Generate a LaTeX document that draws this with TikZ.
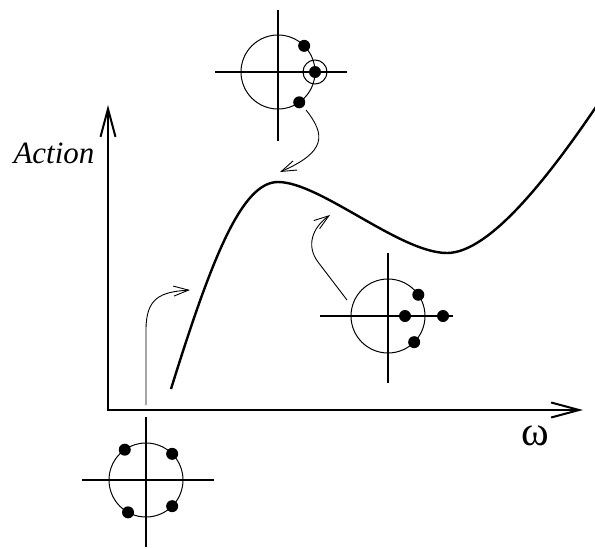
\documentclass[tikz,border=0pt]{standalone}
\usepackage{fontspec}
\setmainfont{Liberation Serif}
\usetikzlibrary{positioning, arrows.meta, calc}

\begin{document}
\begin{tikzpicture}[x=1pt, y=-1pt,
    axis/.style={line width=2pt, -{Straight Barb[length=28pt, width=15pt, line width=2pt]}},
    curve/.style={line width=2.4pt, line join=round},
    cross/.style={line width=1.2pt},
    orbit/.style={line width=1pt},
    charge/.style={circle, fill=black, inner sep=0pt, minimum size=12pt},
    hint/.style={line width=0.9pt, -{Straight Barb[length=15pt, width=10pt, line width=0.9pt]}}]
      \useasboundingbox (0,0) rectangle (595,549);

      % Axes
      \coordinate (o) at (108,410);
      \coordinate (ytip) at (108,105);
      \coordinate (xtip) at (583,410);
      \draw[axis] (o) -- (ytip);
      \draw[axis] ($(o)+(-1,0)$) -- (xtip);
      \node[font=\fontsize{31}{31}\selectfont\itshape] (lbl) at (54,153) {Action};
      \node[font=\fontsize{42}{42}\selectfont] (omega) at (535,436) {ω};

      % Action curve
      \draw[curve] (171,389) .. controls (212,257) and (242,182) .. (278,182)
                   .. controls (320,182) and (400,253) .. (447,253)
                   .. controls (490,253) and (550,175) .. (598,104);

      % Bottom inset
      \coordinate (c1) at (146,480);
      \draw[cross] (146,417) -- (146,547);
      \draw[cross] (82,480) -- (214,480);
      \draw[orbit] (c1) circle (37);
      \node[charge] (d1) at ($(c1)+(45:37)$) {};
      \node[charge] (d2) at ($(c1)+(119:37)$) {};
      \node[charge] (d3) at ($(c1)+(235:37)$) {};
      \node[charge] (d4) at ($(c1)+(315:37)$) {};

      % Top inset
      \coordinate (c2) at (278,72);
      \draw[cross] (278,10) -- (278,141);
      \draw[cross] (215,72) -- (347,72);
      \draw[orbit] (c2) circle (37);
      \node[charge] (d5) at ($(c2)+(55:37)$) {};
      \node[charge] (d6) at ($(c2)+(0:37)$) {};
      \node[charge] (d7) at ($(c2)+(-45:37)$) {};
      \draw[orbit] (d6) circle (12);

      % Middle inset
      \coordinate (c3) at (388,316);
      \draw[cross] (388,253) -- (388,383);
      \draw[cross] (320,316) -- (453,316);
      \draw[orbit] (c3) circle (37);
      \node[charge] (d8) at ($(c3)+(45:37)$) {};
      \node[charge] (d9) at (405,316) {};
      \node[charge] (d10) at (443,316) {};
      \node[charge] (d11) at ($(c3)+(-35:37)$) {};

      % Arrows from insets to curve
      \coordinate (a1s) at (146,405);
      \coordinate (a1e) at (190,290);
      \coordinate (a2s) at (306,110);
      \coordinate (a2e) at (280,172);
      \coordinate (a3s) at (347,300);
      \coordinate (a3e) at (330,215);
      \draw[hint] (a1s) -- (146,330) .. controls (146,298) and (160,292) .. (a1e);
      \draw[hint] (a2s) .. controls (326,135) and (326,152) .. (a2e);
      \draw[hint] (a3s) -- (318,262) .. controls (306,246) and (312,228) .. (a3e);
    \end{tikzpicture}
\end{document}
